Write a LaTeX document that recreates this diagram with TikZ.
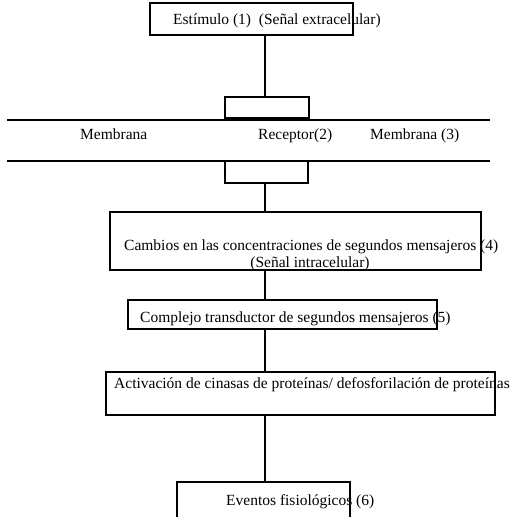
\documentclass[tikz,border=0pt]{standalone}
\usepackage{fontspec}
\setmainfont{Liberation Serif}
\begin{document}
\begin{tikzpicture}[x=1pt,y=-1pt,
  box/.style={draw, line width=1.2pt, inner sep=0pt, outer sep=0pt},
  lbl/.style={anchor=base west, inner sep=0pt, font=\fontsize{15.5}{18}\selectfont},
  wire/.style={line width=1.2pt}]
\useasboundingbox (0,0) rectangle (521,516);
\clip (0,0) rectangle (521,516);
\coordinate (spine) at (265,0);

% stimulus
\node[box, minimum width=203pt, minimum height=32pt] (top) at (251.5,19) {};
\node[lbl] (ttop) at (173,25) {Estímulo (1)\ \ (Señal extracelular)};

% receptor spanning the membrane
\node[box, minimum width=84pt, minimum height=21pt] (rup) at (267,107.5) {};
\node[box, minimum width=83pt, minimum height=22pt] (rlow) at (266.5,172) {};
\coordinate (m1a) at (7,120);  \coordinate (m1b) at (490,120);
\coordinate (m2a) at (7,161);  \coordinate (m2b) at (490,161);
\draw[wire] (m1a) -- (m1b);
\draw[wire] (m2a) -- (m2b);
\draw[wire] (rup.south east) -- (rup.south east |- m1a);
\node[lbl] (tm1) at (80,139) {Membrana};
\node[lbl] (trec) at (258,139) {Receptor(2)};
\node[lbl] (tm2) at (370,139) {Membrana (3)};

% second messengers
\node[box, minimum width=371pt, minimum height=58pt] (camb) at (295.5,241) {};
\node[lbl] (tcamb) at (124,250) {Cambios en las concentraciones de segundos mensajeros (4)};
\node[lbl, anchor=base] (tsen) at (310,267) {(Señal intracelular)};

\node[box, minimum width=309pt, minimum height=29pt] (comp) at (282.5,314.5) {};
\node[lbl] (tcomp) at (140,322) {Complejo transductor de segundos mensajeros (5)};

\node[box, minimum width=389pt, minimum height=43pt] (act) at (300.5,393.5) {};
\node[lbl] (tact) at (114,388) {Activación de cinasas de proteínas/ defosforilación de proteínas};

\node[box, minimum width=173pt, minimum height=80pt] (ev) at (263.5,522) {};
\node[lbl] (tev) at (226,505) {Eventos fisiológicos (6)};

% connectors along the central spine
\draw[wire] (top.south -| spine) -- (rup.north -| spine);
\draw[wire] (rlow.south -| spine) -- (camb.north -| spine);
\draw[wire] (camb.south -| spine) -- (comp.north -| spine);
\draw[wire] (comp.south -| spine) -- (act.north -| spine);
\draw[wire] (act.south -| spine) -- (ev.north -| spine);
\end{tikzpicture}
\end{document}
